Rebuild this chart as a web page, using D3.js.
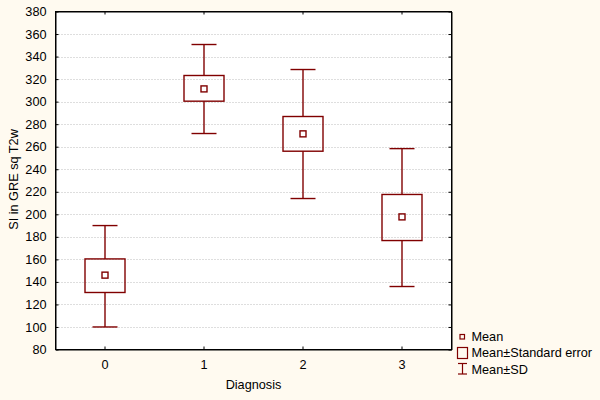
<!DOCTYPE html>
<html><head><meta charset="utf-8">
<script src="https://cdn.jsdelivr.net/npm/d3@7"></script>
<style>html,body{margin:0;padding:0;background:#fffaf0;}svg{display:block;}</style>
</head><body>
<script>
const categories = ["0","1","2","3"];
const means   = [146, 311.3, 271.4, 197.7];
const seLow   = [130.6, 300.4, 256, 176.7];
const seHigh  = [160.4, 323.2, 286.8, 217.6];
const sdLow   = [100, 271.7, 214, 135.9];
const sdHigh  = [190, 350.7, 328.5, 258.3];
const yTicks  = [80,100,120,140,160,180,200,220,240,260,280,300,320,340,360,380];
const legendLabels = ["Mean","Mean±Standard error","Mean±SD"];

const W=600,H=400, L=55.5, T=11.5, R=451.5, B=349.5;
const col="#800000", font="'Liberation Sans', Arial, sans-serif", fs="12.7px";
const svg=d3.select("body").append("svg").attr("width",W).attr("height",H);
svg.append("rect").attr("width",W).attr("height",H).attr("fill","#fffaf0");
svg.append("rect").attr("x",L).attr("y",T).attr("width",R-L).attr("height",B-T).attr("fill","#fff");

const x=d3.scaleBand().domain(categories).range([L,R]);
const y=d3.scaleLinear().domain([80,380]).range([B,T]);

// grid
svg.append("g").selectAll("line").data(yTicks.filter(v=>v>80&&v<380)).join("line")
  .attr("x1",L).attr("x2",R).attr("y1",d=>Math.round(y(d))+0.5).attr("y2",d=>Math.round(y(d))+0.5)
  .attr("stroke","#bdbdbd").attr("stroke-dasharray","1,2");

// axes
const gl=svg.append("g").attr("transform",`translate(${L},0)`)
  .call(d3.axisLeft(y).tickValues(yTicks).tickSizeInner(-3).tickSizeOuter(0).tickPadding(9));
const gr=svg.append("g").attr("transform",`translate(${R},0)`)
  .call(d3.axisRight(y).tickValues(yTicks).tickSizeInner(-3).tickSizeOuter(0).tickFormat(""));
const gb=svg.append("g").attr("transform",`translate(0,${B})`)
  .call(d3.axisBottom(x).tickSizeInner(-3).tickSizeOuter(0).tickPadding(10));
const gt=svg.append("g").attr("transform",`translate(0,${T})`)
  .call(d3.axisTop(x).tickSizeInner(-3).tickSizeOuter(0).tickFormat(""));
[gl,gr,gb,gt].forEach(g=>{
  g.selectAll(".domain").attr("stroke","#000");
  g.selectAll(".tick line").attr("stroke","#000");
  g.selectAll("text").attr("font-family",font).attr("font-size",fs).attr("fill","#000");
});
svg.append("rect").attr("x",L).attr("y",T).attr("width",R-L).attr("height",B-T)
  .attr("fill","none").attr("stroke","#000");

// boxes
const g=svg.append("g").attr("stroke",col).attr("stroke-width",1.4).attr("fill","none");
const cx=i=>x(categories[i])+x.bandwidth()/2;
categories.forEach((c,i)=>{
  const X=cx(i);
  g.append("line").attr("x1",X).attr("x2",X).attr("y1",y(sdHigh[i])).attr("y2",y(seHigh[i]));
  g.append("line").attr("x1",X).attr("x2",X).attr("y1",y(seLow[i])).attr("y2",y(sdLow[i]));
  g.append("line").attr("x1",X-12.5).attr("x2",X+12.5).attr("y1",y(sdHigh[i])).attr("y2",y(sdHigh[i]));
  g.append("line").attr("x1",X-12.5).attr("x2",X+12.5).attr("y1",y(sdLow[i])).attr("y2",y(sdLow[i]));
  g.append("rect").attr("x",X-20).attr("width",40).attr("y",y(seHigh[i])).attr("height",y(seLow[i])-y(seHigh[i]));
  g.append("rect").attr("x",X-3).attr("width",6).attr("y",y(means[i])-3).attr("height",6);
});

// axis titles
svg.append("text").attr("x",(L+R)/2).attr("y",389).attr("text-anchor","middle")
  .attr("font-family",font).attr("font-size",fs).text("Diagnosis");
svg.append("text").attr("transform",`translate(18,${(T+B)/2-1}) rotate(-90)`).attr("text-anchor","middle")
  .attr("font-family",font).attr("font-size",fs).text("SI in GRE sq T2w");

// legend
const lg=svg.append("g").attr("stroke",col).attr("stroke-width",1.2).attr("fill","none");
lg.append("rect").attr("x",460).attr("y",334.5).attr("width",4.5).attr("height",4.5);
lg.append("rect").attr("x",457.5).attr("y",347.5).attr("width",10).attr("height",11);
lg.append("line").attr("x1",462.5).attr("x2",462.5).attr("y1",363.5).attr("y2",374);
lg.append("line").attr("x1",458).attr("x2",467).attr("y1",363.5).attr("y2",363.5);
lg.append("line").attr("x1",458).attr("x2",467).attr("y1",374).attr("y2",374);
svg.append("g").selectAll("text").data(legendLabels).join("text")
  .attr("x",471.5).attr("y",(d,i)=>341+i*16.3).attr("font-family",font).attr("font-size",fs)
  .attr("fill","#000").text(d=>d);
</script>
</body></html>
